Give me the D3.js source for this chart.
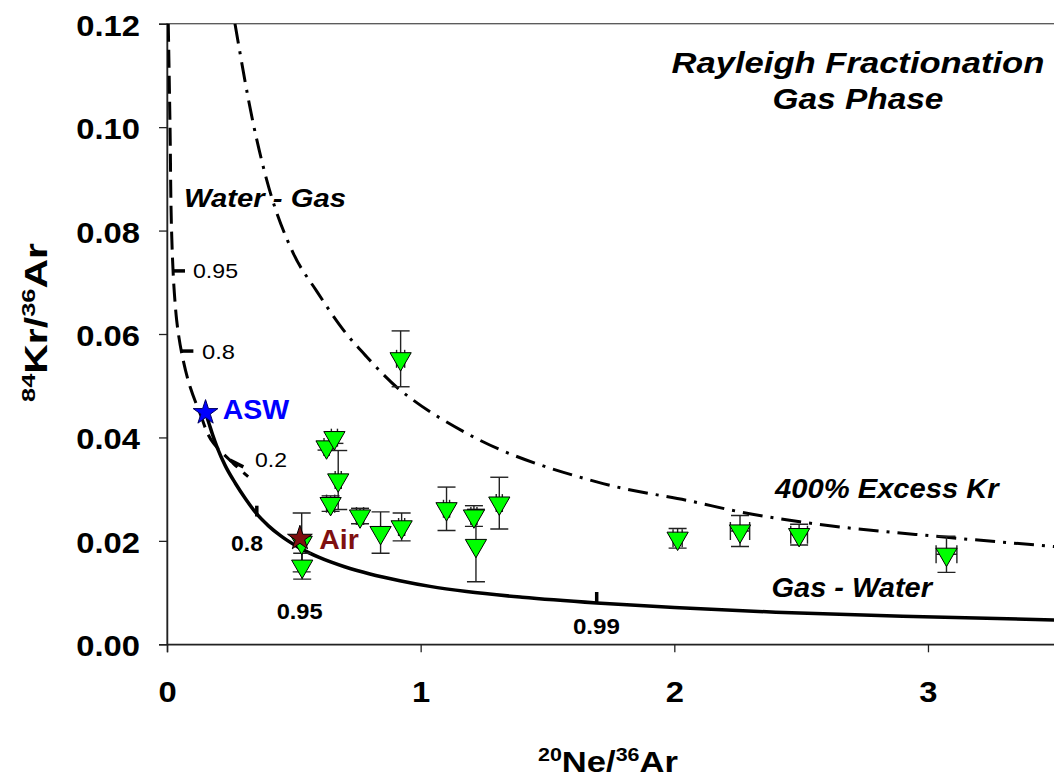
<!DOCTYPE html>
<html>
<head>
<meta charset="utf-8">
<script src="https://cdn.jsdelivr.net/npm/d3@7"></script>
<style>
  html, body { margin: 0; padding: 0; background: #fff; }
  svg { display: block; }
  text { font-family: "Liberation Sans", Arial, sans-serif; }
</style>
</head>
<body>
<svg id="chart" width="1054" height="778"></svg>
<script>
// ---------------- data ----------------
const xTicks = [0, 1, 2, 3];
const yTicks = [0, 0.02, 0.04, 0.06, 0.08, 0.10, 0.12];

// Gas - Water (solid) Rayleigh curve
const gasWaterNe = [0.152, 0.165, 0.18, 0.2, 0.23, 0.27, 0.31, 0.354, 0.40, 0.45, 0.524, 0.60, 0.70, 0.80, 0.918, 1.037, 1.181, 1.40, 1.694, 2.0, 2.4, 2.9, 3.5];
const gasWaterKr = [0.0448, 0.0428, 0.0405, 0.0378, 0.0345, 0.0311, 0.0281, 0.0252, 0.0229, 0.0209, 0.0186, 0.0168, 0.0150, 0.0136, 0.0123, 0.0112, 0.0102, 0.0091, 0.0080, 0.0071, 0.0062, 0.0054, 0.0047];

// Water - Gas (dashed) curve
const waterGasNe = [0.005, 0.012, 0.018, 0.031, 0.038, 0.058, 0.091, 0.130, 0.183, 0.261, 0.320];
const waterGasKr = [0.12, 0.10, 0.08, 0.0666, 0.0627, 0.0563, 0.0498, 0.0447, 0.0389, 0.035, 0.0324];

// 400% excess Kr (dash-dot) curve
const excessNe = [0.268, 0.340, 0.393, 0.498, 0.59, 0.695, 0.787, 0.918, 0.971, 1.181, 1.694, 2.101, 2.219, 2.495, 3.073, 3.5];
const excessKr = [0.12, 0.1007, 0.0898, 0.0756, 0.0683, 0.0608, 0.0556, 0.0492, 0.0472, 0.0408, 0.0314, 0.0273, 0.0260, 0.0237, 0.0207, 0.0189];

// samples
const sampleNe    = [0.921, 0.629, 0.660, 0.675, 0.645, 0.761, 0.842, 0.925, 1.102, 1.210, 1.218, 1.310, 0.531, 0.533, 2.013, 2.259, 2.492, 3.073];
const sampleKr    = [0.0552, 0.03815, 0.03995, 0.03177, 0.0272, 0.0248, 0.0216, 0.0227, 0.0262, 0.0248, 0.0191, 0.0273, 0.0197, 0.0151, 0.0205, 0.0219, 0.0212, 0.0174];
const sampleKrErr = [0.0054, 0.0006, 0.0011, 0.0057, 0.0015, 0.0015, 0.0040, 0.0027, 0.0042, 0.0020, 0.0070, 0.0050, 0.0057, 0.0025, 0.0019, 0.0030, 0.0020, 0.0035];
const sampleNeErr = [0.016, 0.010, 0.012, 0.012, 0.016, 0.014, 0.000, 0.012, 0.012, 0.012, 0.000, 0.012, 0.000, 0.000, 0.018, 0.038, 0.033, 0.041];

// reference points
const refNames = ["ASW", "Air"];
const refNe = [0.152, 0.524];
const refKr = [0.0448, 0.0205];

// fraction tick marks on curves [x1, y1, x2, y2]
const waterGasMarks = [[0.025, 0.0722, 0.071, 0.0722], [0.058, 0.0567, 0.104, 0.0567], [0.248, 0.0356, 0.301, 0.0343]];
const waterGasMarkLabels = ["0.95", "0.8", "0.2"];
const gasWaterMarks = [[0.354, 0.0268, 0.354, 0.0247], [1.694, 0.0101, 1.694, 0.0080]];
const gasWaterMarkLabels = ["0.8", "0.95", "0.99"];

// ---------------- layout ----------------
const svg = d3.select("#chart");
const x = d3.scaleLinear().domain([0, 3.5]).range([167, 1054.8]);
const y = d3.scaleLinear().domain([0, 0.12]).range([644.3, 23.7]);
const SX = 1.13;

svg.append("defs").append("clipPath").attr("id", "plot")
  .append("rect").attr("x", x(0)).attr("y", y(0.12)).attr("width", x(3.5) - x(0)).attr("height", y(0) - y(0.12));

// frame
svg.append("rect").attr("x", x(0)).attr("y", y(0.12))
  .attr("width", x(3.5) - x(0)).attr("height", y(0) - y(0.12))
  .attr("fill", "none").attr("stroke", "#555").attr("stroke-width", 1.3);

// axes
const yAxis = svg.append("g").attr("transform", `translate(${x(0)},0)`)
  .call(d3.axisLeft(y).tickValues(yTicks).tickSize(8).tickFormat(d3.format(".2f")));
const xAxis = svg.append("g").attr("transform", `translate(0,${y(0)})`)
  .call(d3.axisBottom(x).tickValues(xTicks).tickSize(8).tickFormat(d3.format("d")));
[yAxis, xAxis].forEach(a => {
  a.select(".domain").attr("stroke", "#222").attr("stroke-width", 1.5);
  a.selectAll(".tick line").attr("stroke", "#222").attr("stroke-width", 1.3);
  a.selectAll(".tick text").attr("font-size", 29).attr("font-weight", "bold").attr("fill", "#000")
    .attr("font-family", '"Liberation Sans", Arial, sans-serif');
});
yAxis.selectAll(".tick text").attr("x", -27 / SX).attr("dy", null).attr("y", 11.5)
  .attr("transform", `scale(${SX},1)`);
xAxis.selectAll(".tick text").attr("y", 57.4).attr("dy", null)
  .attr("transform", `scale(${SX},1)`);

// ---------------- text helper ----------------
function label(px, py, parts, o) {
  const t = svg.append("text")
    .attr("text-anchor", o.anchor || "start")
    .attr("font-size", o.size)
    .attr("font-weight", o.weight || "normal")
    .attr("font-style", o.style || "normal")
    .attr("fill", o.fill || "#000");
  parts.forEach(p => {
    const s = t.append("tspan").text(p.t);
    if (p.sup) s.attr("font-size", o.size * 0.62).attr("dy", -o.size * 0.38);
    else if (p.after) s.attr("dy", o.size * 0.38);
  });
  const w = t.node().getBBox().width;
  const s = o.width ? o.width / w : SX;
  t.attr("transform", `translate(${px},${py})${o.rotate ? ` rotate(${o.rotate})` : ""} scale(${s},1)`);
  return t;
}

// axis titles
label(608, 772, [{t: "20", sup: true}, {t: "Ne/", after: true}, {t: "36", sup: true}, {t: "Ar", after: true}],
  {size: 29, weight: "bold", anchor: "middle", width: 140});
label(47, 322.5, [{t: "84", sup: true}, {t: "Kr/", after: true}, {t: "36", sup: true}, {t: "Ar", after: true}],
  {size: 31, weight: "bold", anchor: "middle", width: 159, rotate: -90});

// ---------------- curves ----------------
const plot = svg.append("g").attr("clip-path", "url(#plot)");
const line = d3.line().x(d => x(d[0])).y(d => y(d[1])).curve(d3.curveMonotoneX);
const lineY = d3.line().x(d => x(d[0])).y(d => y(d[1])).curve(d3.curveMonotoneY);

plot.append("path").datum(d3.zip(excessNe, excessKr)).attr("d", line)
  .attr("fill", "none").attr("stroke", "#000").attr("stroke-width", 3)
  .attr("stroke-dasharray", "20,8,3,8");
plot.append("path").datum(d3.zip(waterGasNe, waterGasKr)).attr("d", lineY)
  .attr("fill", "none").attr("stroke", "#000").attr("stroke-width", 3)
  .attr("stroke-dasharray", "18,8");
plot.append("path").datum(d3.zip(gasWaterNe, gasWaterKr)).attr("d", line)
  .attr("fill", "none").attr("stroke", "#000").attr("stroke-width", 3.5);

// fraction marks
plot.selectAll(".mk").data(waterGasMarks.concat(gasWaterMarks)).join("line")
  .attr("x1", d => x(d[0])).attr("y1", d => y(d[1]))
  .attr("x2", d => x(d[2])).attr("y2", d => y(d[3]))
  .attr("stroke", "#000").attr("stroke-width", 3.5);

// ---------------- samples ----------------
const samples = sampleNe.map((v, i) => ({x: v, y: sampleKr[i], ey: sampleKrErr[i], ex: sampleNeErr[i]}));
const cap = 9;

const eb = plot.append("g").attr("stroke", "#222").attr("stroke-width", 1.4).attr("fill", "none");
samples.forEach(d => {
  const cx = x(d.x), y1 = y(d.y + d.ey), y2 = y(d.y - d.ey), cy = y(d.y);
  eb.append("line").attr("x1", cx).attr("x2", cx).attr("y1", y1).attr("y2", y2);
  eb.append("line").attr("x1", cx - cap).attr("x2", cx + cap).attr("y1", y1).attr("y2", y1);
  eb.append("line").attr("x1", cx - cap).attr("x2", cx + cap).attr("y1", y2).attr("y2", y2);
  if (d.ex > 0) {
    const x1 = x(d.x - d.ex), x2 = x(d.x + d.ex);
    eb.append("line").attr("x1", x1).attr("x2", x2).attr("y1", cy).attr("y2", cy);
    eb.append("line").attr("x1", x1).attr("x2", x1).attr("y1", cy - cap).attr("y2", cy + cap);
    eb.append("line").attr("x1", x2).attr("x2", x2).attr("y1", cy - cap).attr("y2", cy + cap);
  }
});

const tri = d3.symbol().type(d3.symbolTriangle).size(195);
plot.selectAll(".tri").data(samples).join("path")
  .attr("d", tri())
  .attr("transform", d => `translate(${x(d.x)},${y(d.y)}) rotate(180)`)
  .attr("fill", "#00ff00").attr("stroke", "#000").attr("stroke-width", 1);

// reference stars (on top)
const star = d3.symbol().type(d3.symbolStar).size(190);
const starFill = ["#0000ff", "#7f1010"];
const starStroke = ["#000060", "#000"];
refNe.forEach((v, i) => {
  plot.append("path").attr("d", star())
    .attr("transform", `translate(${x(v)},${y(refKr[i])})`)
    .attr("fill", starFill[i]).attr("stroke", starStroke[i]).attr("stroke-width", 1);
});

// ---------------- annotations ----------------
label(x(0.2196), y(0.04356), [{t: refNames[0]}], {size: 27, weight: "bold", fill: "#0000ff", width: 67});
label(x(0.6003), y(0.01837), [{t: refNames[1]}], {size: 27, weight: "bold", fill: "#7f1010", width: 40});

label(x(2.724), y(0.11047), [{t: "Rayleigh Fractionation"}], {size: 29, weight: "bold", style: "italic", anchor: "middle", width: 373});
label(x(2.724), y(0.10341), [{t: "Gas Phase"}], {size: 29, weight: "bold", style: "italic", anchor: "middle", width: 171});
label(x(0.067), y(0.08461), [{t: "Water - Gas"}], {size: 26, weight: "bold", style: "italic", width: 162});
label(x(2.397), y(0.02829), [{t: "400% Excess Kr"}], {size: 28, weight: "bold", style: "italic", width: 227});
label(x(2.3835), y(0.0092), [{t: "Gas - Water"}], {size: 27, weight: "bold", style: "italic", width: 162});

const wgLabelPos = [[0.1025, 0.07077, 45], [0.138, 0.05511, 33], [0.3469, 0.03422, 32]];
waterGasMarkLabels.forEach((s, i) => label(x(wgLabelPos[i][0]), y(wgLabelPos[i][1]), [{t: s}], {size: 21, width: wgLabelPos[i][2]}));
const gwLabelPos = [[0.2523, 0.01804, 32], [0.4324, 0.00489, 46], [1.6003, 0.00199, 47]];
gasWaterMarkLabels.forEach((s, i) => label(x(gwLabelPos[i][0]), y(gwLabelPos[i][1]), [{t: s}], {size: 22, weight: "bold", width: gwLabelPos[i][2]}));
</script>
</body>
</html>
